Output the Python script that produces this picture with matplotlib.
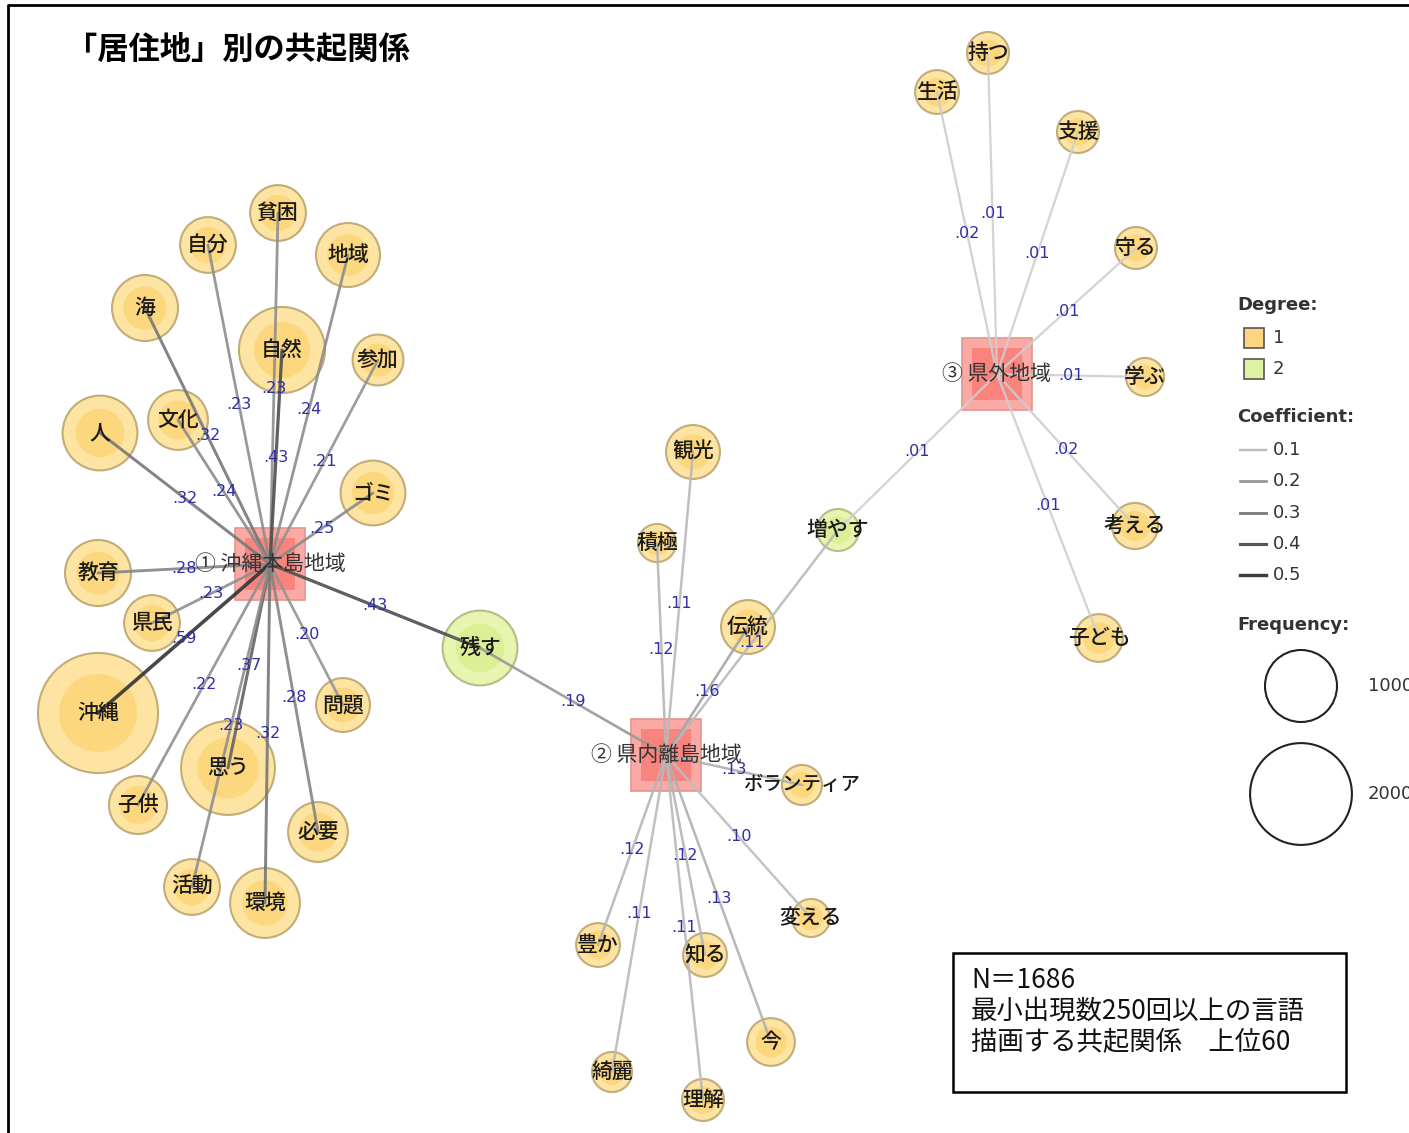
import numpy as np
import matplotlib
matplotlib.use("Agg")
import matplotlib.pyplot as plt
from matplotlib.patches import Circle, Rectangle

plt.rcParams['font.family'] = ['Noto Sans CJK JP', 'DejaVu Sans']

title = "「居住地」別の共起関係"
note_lines = ["N＝1686", "最小出現数250回以上の言語", "描画する共起関係　上位60"]

# outside variable nodes (squares) and their layout position
groups = ["① 沖縄本島地域", "② 県内離島地域", "③ 県外地域"]
group_x = [270, 666, 997]
group_y = [564, 755, 374]

# word nodes: layout position, frequency, degree
words = ["貧困", "自分", "地域", "海", "自然", "参加", "人", "文化", "ゴミ",
         "教育", "県民", "沖縄", "子供", "思う", "問題", "必要", "活動", "環境",
         "残す", "観光", "積極", "伝統", "増やす", "ボランティア", "豊か", "知る",
         "変える", "今", "綺麗", "理解",
         "持つ", "生活", "支援", "守る", "学ぶ", "考える", "子ども"]
word_x = [278, 208, 348, 145, 282, 378, 100, 178, 373,
          98, 152, 98, 138, 228, 343, 318, 192, 265,
          480, 693, 657, 748, 838, 802, 598, 705,
          811, 771, 612, 703,
          988, 937, 1078, 1136, 1145, 1135, 1099]
word_y = [213, 245, 255, 308, 350, 360, 433, 420, 493,
          573, 623, 713, 805, 768, 705, 832, 887, 903,
          648, 452, 543, 627, 530, 785, 945, 955,
          918, 1042, 1072, 1100,
          53, 92, 132, 248, 377, 526, 638]
word_freq = [600, 600, 790, 840, 1430, 500, 1080, 690, 810,
             840, 600, 2780, 650, 1700, 560, 690, 600, 940,
             1080, 560, 280, 560, 340, 310, 370, 370,
             280, 440, 310, 340,
             340, 370, 340, 340, 280, 410, 440]
word_degree = [1] * 18 + [2, 1, 1, 1, 2] + [1] * 14

# co-occurrence edges: group index, word, Jaccard coefficient
edge_group = [0] * 19 + [1] * 12 + [2] * 8
edge_word = ["貧困", "自分", "地域", "海", "自然", "参加", "ゴミ", "人", "文化",
             "教育", "県民", "沖縄", "子供", "思う", "活動", "環境", "必要", "問題", "残す",
             "残す", "積極", "観光", "伝統", "増やす", "ボランティア", "変える", "豊か",
             "綺麗", "知る", "理解", "今",
             "持つ", "生活", "支援", "守る", "学ぶ", "考える", "子ども", "増やす"]
edge_coef = [.23, .23, .24, .32, .43, .21, .25, .32, .24,
             .28, .23, .59, .22, .37, .23, .32, .28, .20, .43,
             .19, .12, .11, .16, .11, .13, .10, .12,
             .11, .12, .11, .13,
             .01, .02, .01, .01, .01, .02, .01, .01]

legend_coef = [0.1, 0.2, 0.3, 0.4, 0.5]
legend_freq = [1000, 2000]


def radius(f):
    return 36 * np.sqrt(f / 1000)


def edge_gray(c):
    g = np.interp(c, [0, 0.1, 0.2, 0.3, 0.4, 0.5, 0.6],
                  [0.82, 0.74, 0.58, 0.50, 0.34, 0.24, 0.2])
    return (g, g, g)


def edge_width(c):
    return np.interp(c, [0, 0.6], [1.6, 2.6])


fig = plt.figure(figsize=(14.09, 11.33), dpi=100)
ax = fig.add_axes([0, 0, 1, 1])
ax.set_xlim(0, 1409)
ax.set_ylim(1133, 0)
ax.axis("off")

# frame
ax.plot([8, 8, 1409], [1133, 5, 5], color="black", lw=2, solid_capstyle="butt")

ax.text(66, 50, title, fontsize=22.5, fontweight="bold", va="center", ha="left")

pos = {w: (x, y) for w, x, y in zip(words, word_x, word_y)}

# nodes
for w, x, y, f, d in zip(words, word_x, word_y, word_freq, word_degree):
    r = radius(f)
    if d == 1:
        outer, inner, edge = "#fde4a2", "#fcd77e", "#c2ad78"
    else:
        outer, inner, edge = "#e8f5b0", "#dcef94", "#b3bf88"
    ax.add_patch(Circle((x, y), r, facecolor=outer, edgecolor=edge, lw=1.5, zorder=2))
    ax.add_patch(Circle((x, y), r * 0.65, facecolor=inner, edgecolor="none", zorder=2))

for gx, gy in zip(group_x, group_y):
    ax.add_patch(Rectangle((gx - 35, gy - 36), 70, 72, facecolor="#fba9a4",
                           edgecolor="#e6948f", lw=1.2, zorder=2))
    ax.add_patch(Rectangle((gx - 25, gy - 26), 50, 52, facecolor="#f8847d",
                           edgecolor="none", zorder=2))

# edges
for g, w, c in zip(edge_group, edge_word, edge_coef):
    x0, y0 = group_x[g], group_y[g]
    x1, y1 = pos[w]
    ax.plot([x0, x1], [y0, y1], color=edge_gray(c), lw=edge_width(c),
            alpha=0.9, zorder=3, solid_capstyle="round")
    ax.text((x0 + x1) / 2, (y0 + y1) / 2, ("%.2f" % c)[1:], color="#2e2ea6",
            fontsize=11.5, family="DejaVu Sans", ha="center", va="center", zorder=5)

# node labels
for w, x, y in zip(words, word_x, word_y):
    fs = 14 if len(w) > 4 else 15
    ax.text(x, y, w, fontsize=fs, fontweight="medium", ha="center", va="center",
            color="#1a1a1a", zorder=4)
for name, gx, gy in zip(groups, group_x, group_y):
    ax.text(gx, gy, name, fontsize=15, ha="center", va="center", color="#333333", zorder=4)

# legend
lc = "#333333"
ax.text(1237, 305, "Degree:", fontsize=13, fontweight="bold", family="DejaVu Sans",
        va="center", color=lc)
for i, (col, lab) in enumerate([("#fdd580", "1"), ("#dff2a2", "2")]):
    yy = 338 + i * 31
    ax.add_patch(Rectangle((1244, yy - 10), 20, 20, facecolor=col, edgecolor="#555555", lw=1.2))
    ax.text(1273, yy, lab, fontsize=13, family="DejaVu Sans", va="center", color=lc)

ax.text(1237, 417, "Coefficient:", fontsize=13, fontweight="bold", family="DejaVu Sans",
        va="center", color=lc)
for i, c in enumerate(legend_coef):
    yy = 450 + i * 31.3
    ax.plot([1240, 1266], [yy, yy], color=edge_gray(c), lw=edge_width(c))
    ax.text(1273, yy, "%.1f" % c, fontsize=13, family="DejaVu Sans", va="center", color=lc)

ax.text(1237, 625, "Frequency:", fontsize=13, fontweight="bold", family="DejaVu Sans",
        va="center", color=lc)
for f, cy in zip(legend_freq, [686, 794]):
    ax.add_patch(Circle((1301, cy), radius(f), facecolor="none", edgecolor="#222222", lw=1.5))
    ax.text(1368, cy, str(f), fontsize=13, family="DejaVu Sans", va="center", color=lc)

# note box
ax.add_patch(Rectangle((953, 953), 393, 139, facecolor="white", edgecolor="black", lw=1.8))
for i, line in enumerate(note_lines):
    ax.text(971, 980 + i * 31.5, line, fontsize=19, va="center", ha="left", color="#111111")

fig.savefig("out.png", dpi=100)
